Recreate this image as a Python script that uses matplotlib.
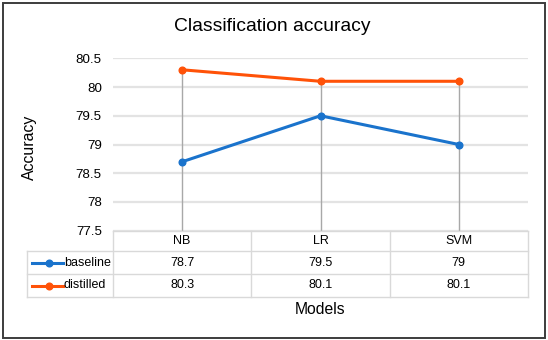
import matplotlib.pyplot as plt
from matplotlib.lines import Line2D
from matplotlib.patches import Rectangle

plt.rcParams['font.family'] = ['Liberation Sans', 'DejaVu Sans']

models = ['NB', 'LR', 'SVM']
baseline = [78.7, 79.5, 79.0]
distilled = [80.3, 80.1, 80.1]
baseline_txt = ['78.7', '79.5', '79']
distilled_txt = ['80.3', '80.1', '80.1']
yticks = [77.5, 78, 78.5, 79, 79.5, 80, 80.5]
ytick_txt = ['77.5', '78', '78.5', '79', '79.5', '80', '80.5']

BLUE = '#1a73cc'
ORANGE = '#ff5208'
W, H = 548, 340

fig = plt.figure(figsize=(W / 100, H / 100), dpi=100)

# outer frame
fig.patches.append(Rectangle((2.5 / W, 2.5 / H), 542.5 / W, 335 / H, transform=fig.transFigure,
                             fill=False, edgecolor='#3c3c3c', linewidth=1.4))

# plot area in pixels
L, R, T, B = 113, 528, 58.3, 230.7
ax = fig.add_axes([L / W, 1 - B / H, (R - L) / W, (B - T) / H])
ax.set_xlim(-0.5, 2.5)
ax.set_ylim(77.5, 80.5)
for s in ax.spines.values():
    s.set_visible(False)
ax.set_xticks([])
ax.set_yticks(yticks)
ax.set_yticklabels(ytick_txt, fontsize=9.6)
ax.tick_params(axis='y', length=0, pad=8)
ax.yaxis.grid(True, color='#e3e3e3', linewidth=1.6)
ax.set_axisbelow(True)

x = range(len(models))
# drop lines
ax.vlines(x, 77.5, [max(a, b) for a, b in zip(baseline, distilled)], color='#a8a8a8', linewidth=1, zorder=2)
ax.plot(x, baseline, color=BLUE, linewidth=2.2, marker='o', markersize=4.8, zorder=3, clip_on=False)
ax.plot(x, distilled, color=ORANGE, linewidth=2.2, marker='o', markersize=4.8, zorder=3, clip_on=False)

fig.text(272.5 / W, 1 - 26.5 / H, 'Classification accuracy', ha='center', va='center', fontsize=13.9)
fig.text(29 / W, 1 - 147.5 / H, 'Accuracy', ha='center', va='center', rotation=90, fontsize=11.4)

# data table below the axes
ppy = (B - T)


def ay(py):
    # pixel row -> axes fraction
    return (B - py) / ppy


def ax_x(px):
    return (px - L) / (R - L)


rows = [230.7, 251, 274.3, 296.7]
grid_kw = dict(color='#d9d9d9', linewidth=1, transform=ax.transAxes, clip_on=False)
ax.add_line(Line2D([0, 1], [ay(rows[0])] * 2, **grid_kw))
for r in rows[1:]:
    ax.add_line(Line2D([ax_x(27.3), 1], [ay(r)] * 2, **grid_kw))
for bx in [0, 1 / 3, 2 / 3, 1]:
    ax.add_line(Line2D([bx, bx], [ay(rows[0]), ay(rows[3])], **grid_kw))
ax.add_line(Line2D([ax_x(27.3)] * 2, [ay(rows[1]), ay(rows[3])], **grid_kw))

fs = 9
tr = ax.get_xaxis_transform()
for i, m in enumerate(models):
    ax.text(i, ay(241), m, transform=tr, ha='center', va='center', fontsize=fs)
    ax.text(i, ay(262.7), baseline_txt[i], transform=tr, ha='center', va='center', fontsize=fs)
    ax.text(i, ay(285.5), distilled_txt[i], transform=tr, ha='center', va='center', fontsize=fs)

for name, col, yc in [('baseline', BLUE, 262.7), ('distilled', ORANGE, 285.5)]:
    yy = ay(yc)
    ax.add_line(Line2D([ax_x(32), ax_x(62.5)], [yy, yy], color=col, linewidth=2.2,
                       transform=ax.transAxes, clip_on=False))
    ax.add_line(Line2D([ax_x(49)], [yy], color=col, marker='o', markersize=4.8,
                       transform=ax.transAxes, clip_on=False))
    ax.text(ax_x(64), yy, name, transform=ax.transAxes, ha='left', va='center', fontsize=fs)

ax.text(0.5, ay(309), 'Models', transform=ax.transAxes, ha='center', va='center', fontsize=11.3)

fig.savefig('out.png', dpi=100)
